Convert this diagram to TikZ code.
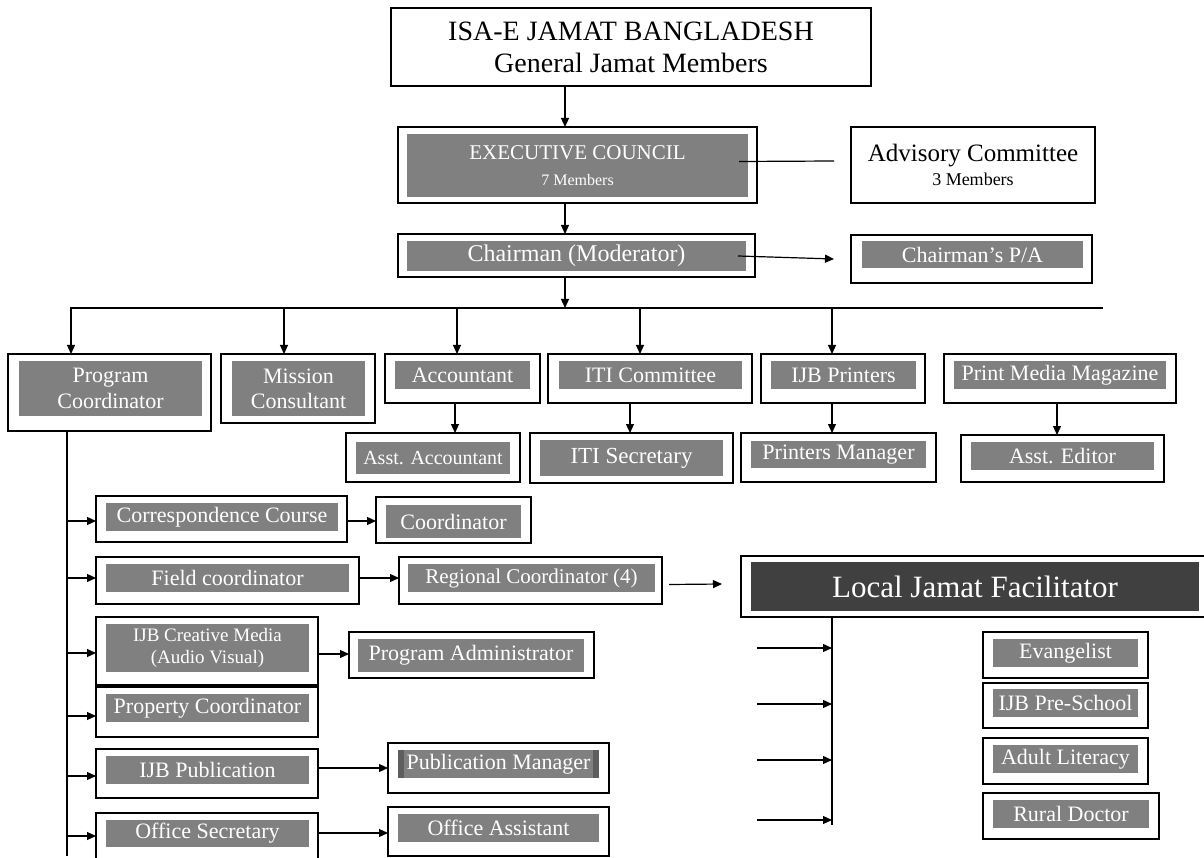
\documentclass[tikz,border=0pt]{standalone}
\usepackage{fontspec}
\setmainfont{Liberation Serif}
\usetikzlibrary{calc, positioning, fit}
\usetikzlibrary{arrows.meta}

\definecolor{boxgray}{HTML}{808080}
\definecolor{edgegray}{HTML}{5E5E5E}
\definecolor{darkgray}{HTML}{404040}
\newcommand\fs[1]{\fontsize{#1}{\fpeval{1.15*#1}}\selectfont}
\tikzset{
  frame/.style={draw=black, fill=white, line width=1.1pt, inner sep=0pt, outer sep=0pt},
  shadebox/.style={fill=boxgray, draw=none, inner sep=0pt, outer sep=0pt},
  whitetxt/.style={text=white, align=center, inner sep=0pt},
  link/.style={line width=1.2pt},
  arr/.style={line width=1.2pt, -{Triangle[length=9pt,width=8pt]}}
}
% name, outer corners, inner corners, size, text
\newcommand\orgbox[7]{%
  \node[frame, fit={(#2) (#3)}] (#1) {};
  \node[shadebox, fit={(#4) (#5)}] (#1-in) {};
  \node[whitetxt, font=\fs{#6}] (#1-t) at (#1-in) {#7};}

\begin{document}
\begin{tikzpicture}[x=1pt, y=-1pt]
\useasboundingbox (0,0) rectangle (1204,858);

\node[frame, fit={(391,8) (871,86)}] (top) {};
\node[align=center, font=\fs{28}] (top-t) at (top) {ISA-E JAMAT BANGLADESH\\General Jamat Members};

\orgbox{exec}{398,127}{757,203}{407,134}{748,197}{21}{EXECUTIVE COUNCIL\\[2pt]{\fs{16}7 Members}}
\node[frame, fit={(851,127) (1095,203)}] (adv) {};
\node[align=center, font=\fs{25}] (adv-t) at (adv) {Advisory Committee\\[-4pt]{\fs{18}3 Members}};

\orgbox{chair}{398,234}{755,277}{407,241}{746,271}{24}{Chairman (Moderator)}
\orgbox{pa}{851,235}{1092,283}{862,241}{1083,268}{22}{Chairman's P/A}

\coordinate (spine) at (565,0);
\coordinate (busL) at (70,308);
\coordinate (busR) at (1103,308);

\draw[arr] (top.south -| spine) -- (exec.north -| spine);
\draw[arr] (exec.south -| spine) -- (chair.north -| spine);
\draw[arr] (chair.south -| spine) -- (spine |- busL);
\draw[link] ($(exec-in.east)+(-9,-4)$) -- ($(adv.west)+(-17,-4)$);
\draw[arr] ($(chair-in.east)+(-8,0)$) -- ($(pa.west)+(-17,0)$);
\draw[link] (busL) -- (busR);

\orgbox{pc}{8,354}{211,431}{19,361}{202,416}{22}{Program\\Coordinator}
\orgbox{mc}{221,354}{375,423}{232,361}{365,416}{22}{Mission\\Consultant}
\orgbox{acc}{385,354}{540,403}{395,361}{530,389}{22}{Accountant}
\orgbox{iti}{548,354}{752,403}{559,361}{742,389}{22}{ITI Committee}
\orgbox{ijbp}{761,354}{925,403}{771,361}{916,389}{22}{IJB Printers}
\orgbox{pmm}{944,354}{1176,403}{954,361}{1166,389}{22}{Print Media Magazine}

\foreach \x/\n in {71/pc, 284/mc, 457/acc, 640/iti, 832/ijbp}
  \draw[arr] (\x,308) -- (\n.north -| \x,0);

\orgbox{asacc}{346,433}{520,482}{356,442}{510,474}{20}{Asst. Accountant}
\orgbox{itis}{530,433}{733,483}{540,440}{723,476}{23}{ITI Secretary}
\orgbox{prm}{741,433}{936,482}{751,441}{926,468}{22}{Printers Manager}
\orgbox{ased}{961,435}{1164,482}{971,442}{1154,470}{22}{Asst. Editor}

\foreach \x/\a/\b in {455/acc/asacc, 630/iti/itis, 832/ijbp/prm, 1057/pmm/ased}
  \draw[arr] (\a.south -| \x,0) -- (\b.north -| \x,0);

\orgbox{corr}{96,496}{347,542}{106,503}{338,531}{22}{Correspondence Course}
\orgbox{coord}{376,497}{531,543}{386,505}{521,538}{22}{Coordinator}
\orgbox{field}{96,557}{359,604}{106,564}{349,592}{22}{Field coordinator}
\orgbox{reg}{399,557}{662,604}{408,564}{655,592}{21}{Regional Coordinator (4)}
\orgbox{cm}{96,617}{318,685}{106,624}{309,672}{19}{IJB Creative Media\\(Audio Visual)}
\orgbox{padm}{349,632}{594,678}{358,639}{584,672}{22}{Program Administrator}
\orgbox{prop}{96,687}{318,737}{106,694}{309,722}{22}{Property Coordinator}
\orgbox{pub}{96,749}{318,798}{106,756}{309,784}{22}{IJB Publication}
\orgbox{pubm}{388,743}{609,793}{398,750}{599,778}{22}{Publication Manager}
\fill[edgegray] (pubm-in.north west) rectangle ++(6,28);
\fill[edgegray] (pubm-in.north east) rectangle ++(-6,28);
\orgbox{osec}{96,813}{318,862}{106,820}{309,847}{22}{Office Secretary}
\orgbox{oas}{388,807}{609,856}{398,814}{599,842}{22}{Office Assistant}

\coordinate (pcl) at (67,856);
\draw[link] (pc.south -| pcl) -- (pcl);
\foreach \y/\n in {521/corr, 578/field, 653/cm, 716/prop, 776/pub, 836/osec}
  \draw[arr] (67,\y) -- (\n.west |- 0,\y);

\draw[arr] (corr.east |- 0,521) -- (coord.west |- 0,521);
\draw[arr] (field.east |- 0,578) -- (reg.west |- 0,578);
\draw[arr] (cm.east |- 0,654) -- (padm.west |- 0,654);
\draw[arr] (pub.east |- 0,768) -- (pubm.west |- 0,768);
\draw[arr] (osec.east |- 0,833) -- (oas.west |- 0,833);

\node[frame, fit={(741,556) (1212,617)}] (ljf) {};
\node[fill=darkgray, inner sep=0pt, fit={(751,562) (1199,611)}] (ljf-in) {};
\node[whitetxt, font=\fs{31}] (ljf-t) at (ljf-in) {Local Jamat Facilitator};
\coordinate (regend) at (722,584);
\draw[arr] ($(reg.east)+(7,4)$) -- (regend);

\coordinate (ljfl) at (832,825);
\draw[link] (ljf.south -| ljfl) -- (ljfl);
\foreach \y in {648, 704, 760, 820}
  \draw[arr] (757,\y) -- (832,\y);

\orgbox{evan}{983,632}{1148,678}{993,639}{1138,667}{22}{Evangelist}
\orgbox{pres}{983,683}{1148,728}{993,689}{1138,717}{22}{IJB Pre-School}
\orgbox{adlit}{983,738}{1148,784}{993,745}{1138,773}{22}{Adult Literacy}
\orgbox{rdoc}{983,793}{1159,839}{993,800}{1149,828}{22}{Rural Doctor}
\end{tikzpicture}
\end{document}
